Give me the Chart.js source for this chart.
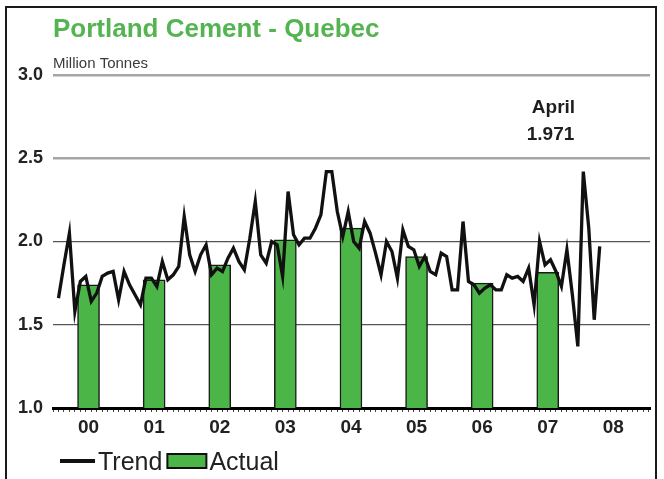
<!DOCTYPE html>
<html>
<head>
<meta charset="utf-8">
<title>Portland Cement - Quebec</title>
<script src="https://cdn.jsdelivr.net/npm/chart.js@4.4.0/dist/chart.umd.min.js"></script>
<style>
  html, body { margin: 0; padding: 0; background: #fff; }
  #wrap { position: relative; width: 664px; height: 479px; overflow: hidden; }
  #frame {
    position: absolute; left: 5px; top: 6px; width: 652px; height: 500px;
    border: 2px solid #1a1a1a; box-sizing: border-box; pointer-events: none;
  }
  #chart { position: absolute; left: 0; top: 0; }
</style>
</head>
<body>
<div id="wrap">
  <canvas id="chart" width="664" height="479"></canvas>
  <div id="frame"></div>
</div>
<script>
// Chart data
const chartTitle = 'Portland Cement - Quebec';
const chartUnits = 'Million Tonnes';
const yearLabels = ['00', '01', '02', '03', '04', '05', '06', '07', '08'];
const yTicks = [1.0, 1.5, 2.0, 2.5, 3.0];

// yearly average (bars), one per year 2000-2007
const actualValues = [1.74, 1.77, 1.86, 2.01, 2.08, 1.91, 1.75, 1.815];

// monthly values, Jan 2000 - Apr 2008
const trendValues = [
    1.66, 1.86, 2.05, 1.58, 1.76, 1.79, 1.64, 1.69, 1.79, 1.81, 1.82, 1.65,
    1.82, 1.74, 1.68, 1.62, 1.78, 1.78, 1.73, 1.88, 1.77, 1.80, 1.85, 2.15,
    1.92, 1.82, 1.92, 1.98, 1.80, 1.84, 1.82, 1.90, 1.96, 1.88, 1.83, 2.02,
    2.24, 1.92, 1.87, 2.00, 1.98, 1.79, 2.30, 2.04, 1.98, 2.02, 2.02, 2.08,
    2.16, 2.42, 2.42, 2.18, 2.03, 2.18, 2.00, 1.96, 2.12, 2.05, 1.93, 1.80,
    2.00, 1.94, 1.78, 2.07, 1.97, 1.95, 1.85, 1.91, 1.82, 1.80, 1.93, 1.91,
    1.71, 1.71, 2.12, 1.76, 1.74, 1.69, 1.72, 1.74, 1.71, 1.71, 1.80, 1.78,
    1.79, 1.76, 1.84, 1.62, 2.00, 1.86, 1.89, 1.82, 1.73, 1.95, 1.68, 1.37,
    2.42, 2.08, 1.53, 1.971
];

const noteLines = ['April', '1.971'];

const FONT = "'Liberation Sans', Arial, sans-serif";
const NARROW = "'Liberation Sans Narrow', 'Arial Narrow', 'Liberation Sans', Arial, sans-serif";
const GREEN = '#4cb548';

// months are on x, year label sits in the middle of each year
const trendPoints = trendValues.map((v, i) => ({ x: i, y: v }));
const actualPoints = actualValues.map((v, i) => ({ x: i * 12 + 5.5, y: v }));

// Title, units, note and legend drawn on the canvas
const decorations = {
    id: 'decorations',
    afterDraw(chart) {
        const ctx = chart.ctx;
        const area = chart.chartArea;
        ctx.save();

        ctx.textAlign = 'left';
        ctx.textBaseline = 'alphabetic';
        ctx.fillStyle = '#55b452';
        ctx.font = 'bold 26px ' + FONT;
        ctx.fillText(chartTitle, area.left, 37);
        ctx.fillStyle = '#3a3a3a';
        ctx.font = '15px ' + FONT;
        ctx.fillText(chartUnits, area.left, 68);

        // note above the last month
        ctx.fillStyle = '#1e1e1e';
        ctx.font = 'bold 19px ' + FONT;
        ctx.textAlign = 'center';
        const noteX = chart.scales.x.getPixelForValue(trendValues.length - 10);
        ctx.fillText(noteLines[0], noteX + 3, 113);
        ctx.fillText(noteLines[1], noteX, 140);

        // legend
        ctx.textAlign = 'left';
        ctx.font = '25px ' + FONT;
        let x = 60;
        const y = 461;
        chart.data.datasets.forEach(ds => {
            if (ds.type === 'line') {
                ctx.strokeStyle = ds.borderColor;
                ctx.lineWidth = 4;
                ctx.beginPath();
                ctx.moveTo(x, y);
                ctx.lineTo(x + 35, y);
                ctx.stroke();
                x += 38;
            } else {
                ctx.fillStyle = ds.backgroundColor;
                ctx.fillRect(x, y - 7, 39, 14);
                ctx.strokeStyle = '#111';
                ctx.lineWidth = 2;
                ctx.strokeRect(x, y - 7, 39, 14);
                x += 42;
            }
            ctx.fillStyle = '#222';
            ctx.fillText(ds.label, x, y + 9);
            x += ctx.measureText(ds.label).width + 5;
        });
        ctx.restore();
    }
};

new Chart(document.getElementById('chart'), {
    data: {
        datasets: [
            {
                type: 'line',
                label: 'Trend',
                data: trendPoints,
                borderColor: '#111',
                borderWidth: 3.3,
                pointRadius: 0,
                tension: 0,
                order: 0
            },
            {
                type: 'bar',
                label: 'Actual',
                data: actualPoints,
                backgroundColor: GREEN,
                borderColor: '#1a1a1a',
                borderWidth: 1.5,
                barThickness: 22,
                order: 1
            }
        ]
    },
    options: {
        responsive: false,
        animation: false,
        layout: { padding: { left: 0, right: 14, top: 75, bottom: 41 } },
        plugins: {
            legend: { display: false },
            tooltip: { enabled: false }
        },
        scales: {
            x: {
                type: 'linear',
                min: -0.5,
                max: 107.7,
                afterBuildTicks: scale => {
                    const ticks = [];
                    for (let k = -1; k <= 107; k++) ticks.push({ value: k + 0.5 });
                    scale.ticks = ticks;
                },
                afterFit: scale => { scale.height = 30; },
                ticks: {
                    autoSkip: false,
                    maxRotation: 0,
                    padding: 4,
                    color: '#222',
                    font: { family: NARROW, size: 19, weight: 'bold' },
                    callback: value => {
                        const k = (value - 5.5) / 12;
                        return Number.isInteger(k) && yearLabels[k] ? yearLabels[k] : '';
                    }
                },
                grid: {
                    drawOnChartArea: false,
                    drawTicks: true,
                    tickLength: 4,
                    tickColor: '#444',
                    tickWidth: 1
                },
                border: { display: true, color: '#000', width: 3 }
            },
            y: {
                min: 1,
                max: 3,
                afterBuildTicks: scale => {
                    scale.ticks = yTicks.map(v => ({ value: v }));
                },
                afterFit: scale => { scale.width = 53; },
                ticks: {
                    padding: 10,
                    color: '#222',
                    font: { family: FONT, size: 18, weight: 'bold' },
                    callback: value => value.toFixed(1)
                },
                grid: {
                    drawTicks: false,
                    color: ctx => (ctx.tick && ctx.tick.value >= 2.5 ? '#a6a6a6' : '#555'),
                    lineWidth: ctx => (ctx.tick && ctx.tick.value >= 2.5 ? 2.5 : 1.2)
                },
                border: { display: false }
            }
        }
    },
    plugins: [decorations]
});
</script>
</body>
</html>
